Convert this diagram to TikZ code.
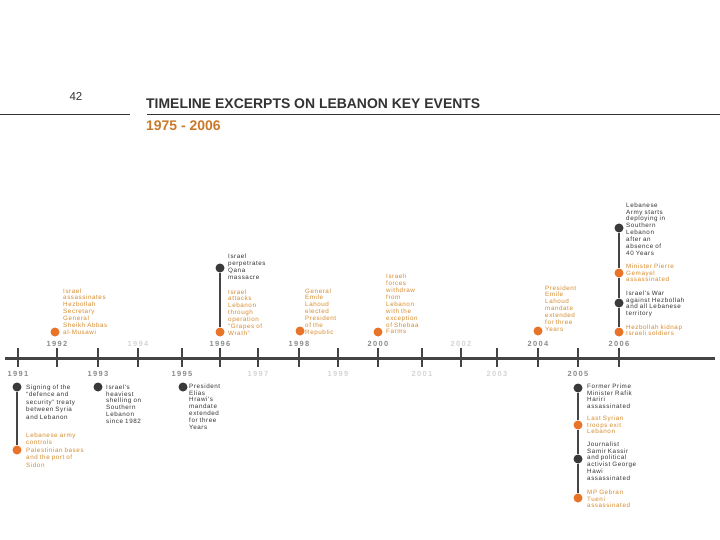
\documentclass[tikz,border=0pt]{standalone}
\usepackage{fontspec}
\setmainfont{Liberation Sans}
\newfontfamily\evfam{Liberation Sans}[LetterSpace=9]
\newfontfamily\yrfam{Liberation Sans}[LetterSpace=18]
\newcommand\evfont{\evfam\fontsize{6.3}{6.9}\selectfont}
\newcommand\yrfont{\yrfam\bfseries\fontsize{7.5}{8}\selectfont}
\definecolor{txtdark}{HTML}{333333}
\definecolor{txtorange}{HTML}{D68A2C}
\definecolor{dotdark}{HTML}{3A3A3A}
\definecolor{dotorange}{HTML}{E8742A}
\definecolor{linedark}{HTML}{444444}
\definecolor{yrdark}{HTML}{8A8A8A}
\definecolor{yrlight}{HTML}{D4D4D4}
\definecolor{subor}{HTML}{C8792A}
\tikzset{
 evtxt/.style={anchor=base west, inner sep=0, text width=95bp, align=left, font=\evfont},
 evblack/.style={evtxt, text=txtdark},
 evorange/.style={evtxt, text=txtorange},
 dotk/.style={circle, fill=dotdark, minimum size=9bp, inner sep=0},
 doto/.style={circle, fill=dotorange, minimum size=9bp, inner sep=0},
 conn/.style={draw=linedark, line width=1.2bp},
 tickline/.style={draw=linedark, line width=1.2bp},
 yrlab/.style={inner sep=0, font=\yrfont},
 yrd/.style={yrlab, text=yrdark},
 yrl/.style={yrlab, text=yrlight},
}
\begin{document}
\begin{tikzpicture}[x=1bp, y=-1bp]
\useasboundingbox (0,0) rectangle (720,540);
% header
\node[inner sep=0, font=\fontsize{11.5}{13}\selectfont, text=txtdark] (pagenum) at (76,97) {42};
\draw[draw=txtdark, line width=0.5bp] (0,114) coordinate (hl1a) -- (130,114) coordinate (hl1b);
\draw[draw=txtdark, line width=0.5bp] (147,114) coordinate (hl2a) -- (720,114) coordinate (hl2b);
\node[anchor=west, inner sep=0, font=\fontsize{14}{16}\selectfont\bfseries, text=txtdark] (title) at (146,104) {TIMELINE EXCERPTS ON LEBANON KEY EVENTS};
\node[anchor=west, inner sep=0, font=\fontsize{14}{16}\selectfont\bfseries, text=subor] (subtitle) at (146,126) {1975 - 2006};
% axis
\draw[draw=linedark, line width=3bp] (5,358) coordinate (axa) -- (715,358) coordinate (axb);
\foreach \x in {18,57,98,138,182,220,258,299,338,378,422,461,497,538,578,619}
  \draw[tickline] (\x,348) -- (\x,367);
% year labels
\node[yrd] (y1991) at (18,374) {1991};
\node[yrd] (y1992) at (57,344) {1992};
\node[yrd] (y1993) at (98,374) {1993};
\node[yrl] (y1994) at (138,344) {1994};
\node[yrd] (y1995) at (182,374) {1995};
\node[yrd] (y1996) at (220,344) {1996};
\node[yrl] (y1997) at (258,374) {1997};
\node[yrd] (y1998) at (299,344) {1998};
\node[yrl] (y1999) at (338,374) {1999};
\node[yrd] (y2000) at (378,344) {2000};
\node[yrl] (y2001) at (422,374) {2001};
\node[yrl] (y2002) at (461,344) {2002};
\node[yrl] (y2003) at (497,374) {2003};
\node[yrd] (y2004) at (538,344) {2004};
\node[yrd] (y2005) at (578,374) {2005};
\node[yrd] (y2006) at (619,344) {2006};
% 1991
\node[dotk] (d91a) at (17,387) {};
\node[doto] (d91b) at (17,450) {};
\draw[conn] (d91a) -- (d91b);
\node[evblack, font=\evfam\fontsize{6.3}{7.5}\selectfont] (t91a) at (26,389.2) {Signing of the\\“defence and\\security” treaty\\between Syria\\and Lebanon};
\node[evorange, font=\evfam\fontsize{6.3}{7.5}\selectfont] (t91b) at (26,437.2) {Lebanese army\\controls\\Palestinian bases\\and the port of\\Sidon};
% 1992
\node[doto] (d92) at (55,332) {};
\node[evorange] (t92) at (63,293) {Israel\\assassinates\\Hezbollah\\Secretary\\General\\Sheikh Abbas\\al-Musawi};
% 1993
\node[dotk] (d93) at (98,387) {};
\node[evblack] (t93) at (106,389.2) {Israel's\\heaviest\\shelling on\\Southern\\Lebanon\\since 1982};
% 1995
\node[dotk] (d95) at (183,387) {};
\node[evblack] (t95) at (189,388.2) {President\\Elias\\Hrawi's\\mandate\\extended\\for three\\Years};
% 1996
\node[dotk] (d96a) at (220,268) {};
\node[doto] (d96b) at (220,332) {};
\draw[conn] (d96a) -- (d96b);
\node[evblack] (t96a) at (228,259) {Israel\\perpetrates\\Qana\\massacre};
\node[evorange] (t96b) at (228,294) {Israel\\attacks\\Lebanon\\through\\operation\\“Grapes of\\Wrath”};
% 1998
\node[doto] (d98) at (300,331) {};
\node[evorange] (t98) at (305,293) {General\\Emile\\Lahoud\\elected\\President\\of the\\Republic};
% 2000
\node[doto] (d00) at (378,332) {};
\node[evorange] (t00) at (386,279) {Israeli\\forces\\withdraw\\from\\Lebanon\\with the\\exception\\of Shebaa\\Farms};
% 2004
\node[doto] (d04) at (538,331) {};
\node[evorange] (t04) at (545,290) {President\\Emile\\Lahoud\\mandate\\extended\\for three\\Years};
% 2005
\node[dotk] (d05a) at (578,388) {};
\node[doto] (d05b) at (578,425) {};
\node[dotk] (d05c) at (578,459) {};
\node[doto] (d05d) at (578,498) {};
\draw[conn] (d05a) -- (d05b);
\draw[conn] (d05b) -- (d05c);
\draw[conn] (d05c) -- (d05d);
\node[evblack] (t05a) at (587,388.2) {Former Prime\\Minister Rafik\\Hariri\\assassinated};
\node[evorange] (t05b) at (587,420.2) {Last Syrian\\troops exit\\Lebanon};
\node[evblack] (t05c) at (587,446.2) {Journalist\\Samir Kassir\\and political\\activist George\\Hawi\\assassinated};
\node[evorange] (t05d) at (587,494.2) {MP Gebran\\Tueni\\assassinated};
% 2006
\node[dotk] (d06a) at (619,228) {};
\node[doto] (d06b) at (619,273) {};
\node[dotk] (d06c) at (619,303) {};
\node[doto] (d06d) at (619,332) {};
\draw[conn] (d06a) -- (d06b);
\draw[conn] (d06b) -- (d06c);
\draw[conn] (d06c) -- (d06d);
\node[evblack] (t06a) at (626,207.2) {Lebanese\\Army starts\\deploying in\\Southern\\Lebanon\\after an\\absence of\\40 Years};
\node[evorange] (t06b) at (626,268.2) {Minister Pierre\\Gemayel\\assassinated};
\node[evblack] (t06c) at (626,295.2) {Israel's War\\against Hezbollah\\and all Lebanese\\territory};
\node[evorange] (t06d) at (626,329) {Hezbollah kidnap\\Israeli soldiers};
\end{tikzpicture}
\end{document}
